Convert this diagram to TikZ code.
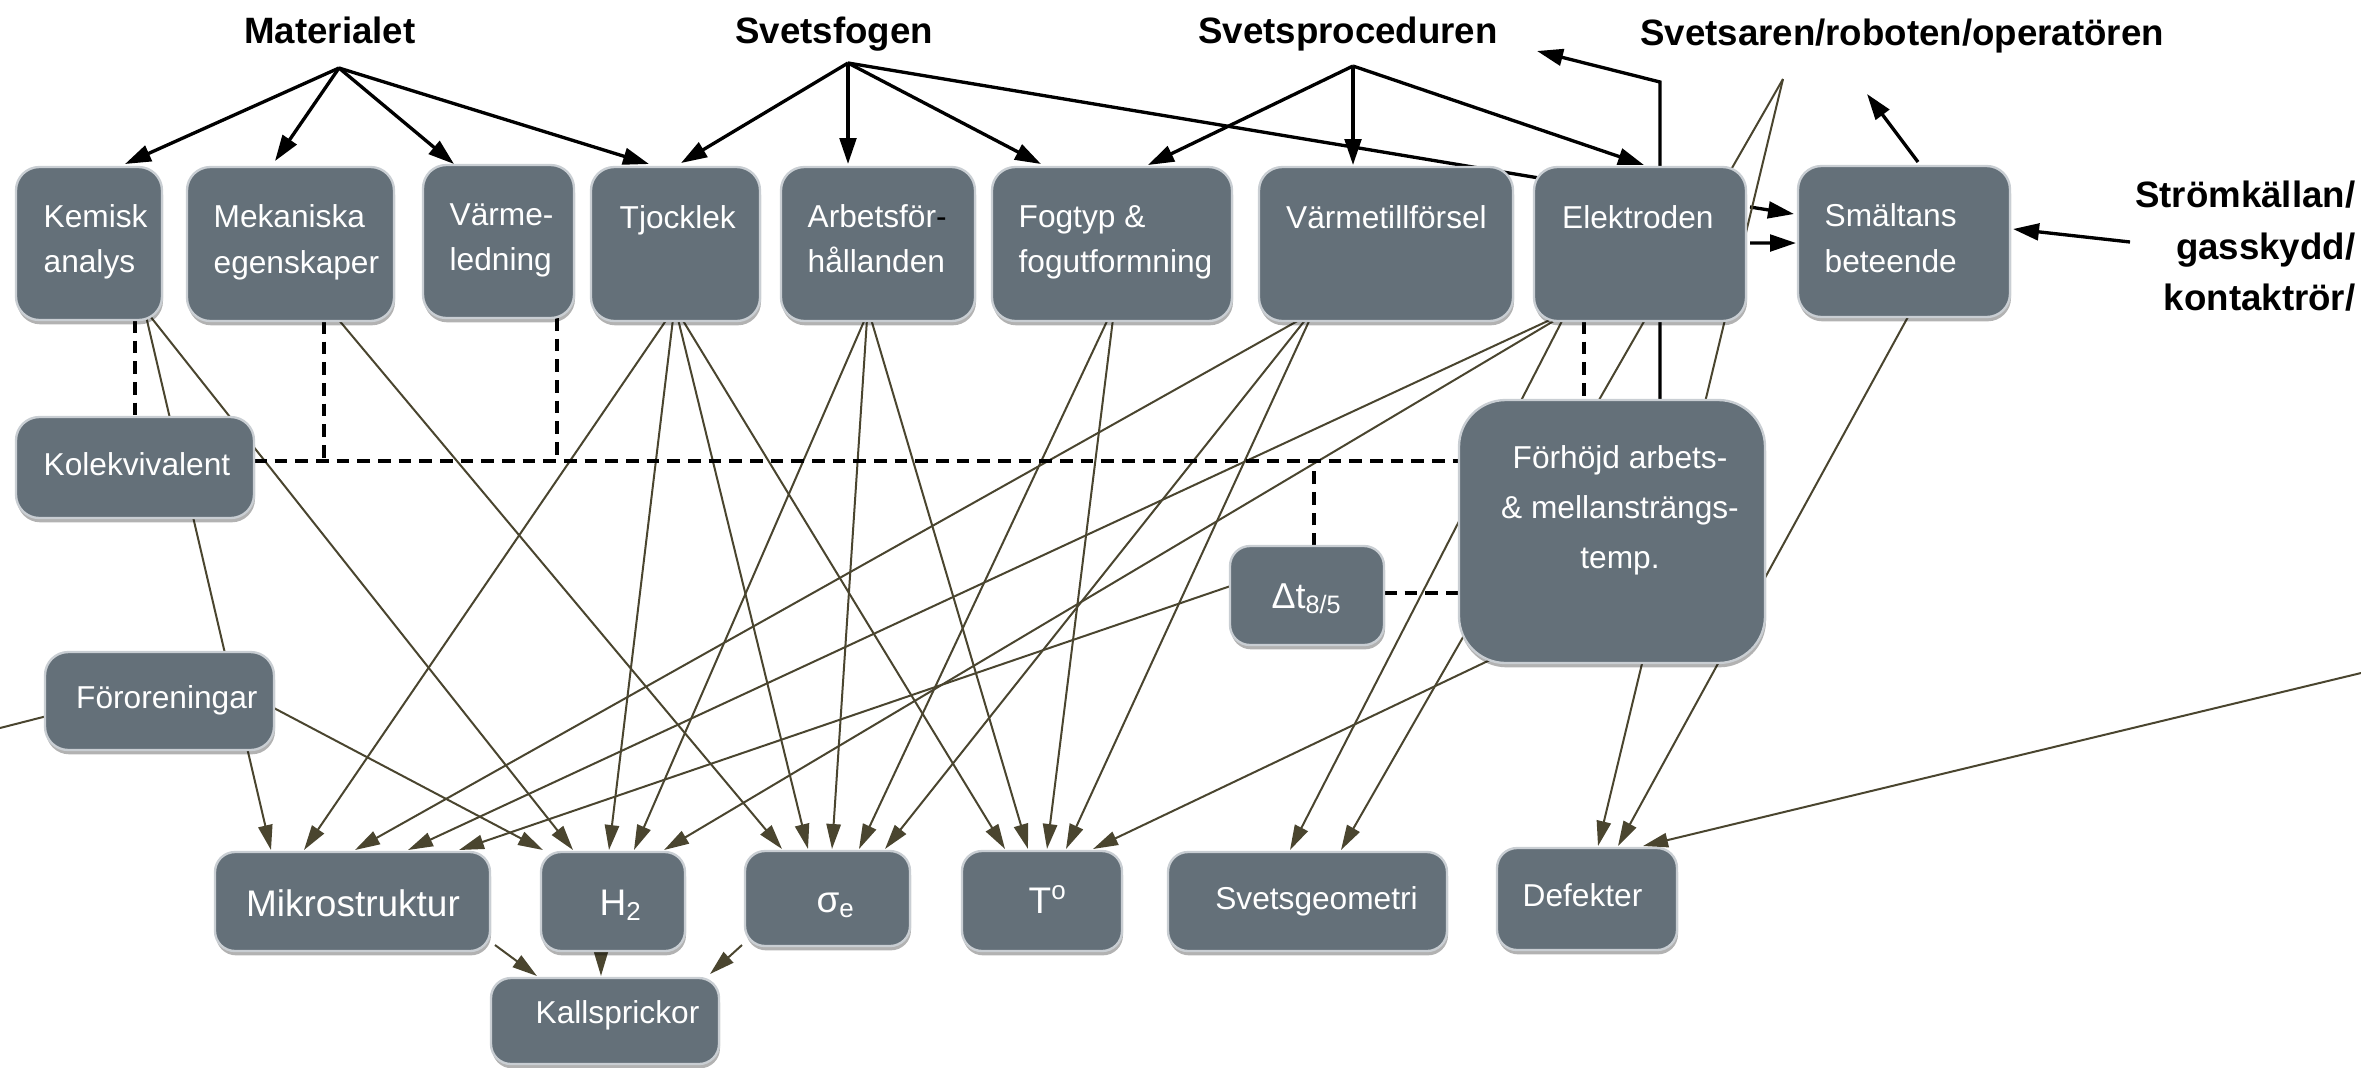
\documentclass[tikz,border=0pt]{standalone}
\usepackage{fontspec}
\setmainfont{Liberation Sans}
\usetikzlibrary{arrows.meta,calc,shadows,backgrounds}
\definecolor{boxfill}{HTML}{647079}
\definecolor{boxline}{HTML}{C9CED3}
\definecolor{olivec}{HTML}{4A452F}
\newcommand\wbfont{\fontsize{9.5}{13.65}\selectfont}
\newcommand\wbbig{\fontsize{11.1}{13.3}\selectfont}
\newcommand\wbttl{\fontsize{11}{15}\selectfont\bfseries}
\begin{document}
\begin{tikzpicture}[x=0.3pt,y=-0.3pt,
  bx/.style 2 args={draw=boxline, line width=0.7pt, fill=boxfill, rounded corners=7pt,
    minimum width=#1*0.3pt, minimum height=#2*0.3pt, inner sep=0pt, outer sep=0pt,
    drop shadow={shadow xshift=0.3pt, shadow yshift=-1.3pt, opacity=0.3, fill=black}},
  tl/.style={font=\wbfont, text=white, align=left, inner sep=0pt, anchor=west},
  tb/.style={font=\wbbig, text=white, inner sep=0pt, anchor=base},
  tm/.style={font=\wbfont, text=white, inner sep=0pt, anchor=base},
  ttl/.style={font=\wbttl, text=black, inner sep=0pt, anchor=base},
  blk/.style={draw=black, line width=1pt, -{Triangle[length=7.8pt, width=5pt]}},
  blkl/.style={draw=black, line width=1pt},
  olv/.style={draw=olivec, line width=0.6pt, -{Triangle[length=7.5pt, width=4.3pt]}},
  olvl/.style={draw=olivec, line width=0.6pt},
  dsh/.style={draw=black, line width=1pt, dash pattern=on 3.8pt off 2.4pt}
]
\useasboundingbox (0,0) rectangle (2361,1067);

% titles
\node[ttl] (mat) at (330,43) {Materialet};
\node[ttl] (sfo) at (834,43) {Svetsfogen};
\node[ttl] (spr) at (1348,43) {Svetsproceduren};
\node[ttl] (sva) at (1902,45) {Svetsaren/roboten/operatören};
\node[ttl, anchor=base east] (str1) at (2356,207) {Strömkällan/};
\node[ttl, anchor=base east] (str2) at (2356,259) {gasskydd/};
\node[ttl, anchor=base east] (str3) at (2356,310) {kontaktrör/};

% boxes
\node[bx={146}{153}] (kem) at (89,243.5) {};
\node[bx={207}{154}] (mek) at (290.5,244) {};
\node[bx={151}{153}] (var) at (498.5,241.5) {};
\node[bx={169}{154}] (tjo) at (675.5,244) {};
\node[bx={194}{154}] (arb) at (878,244) {};
\node[bx={240}{154}] (fog) at (1112,244) {};
\node[bx={254}{154}] (vtf) at (1386,244) {};
\node[bx={212}{154}] (ele) at (1640,244) {};
\node[bx={212}{151}] (sma) at (1904,241.5) {};
\node[bx={238}{101}] (kol) at (135,467.5) {};
\node[bx={229}{98}] (foro) at (159.5,701) {};
\node[bx={154}{99}, rounded corners=6pt] (dt) at (1307,595.5) {};
\node[bx={306}{263}, rounded corners=14pt] (forh) at (1612,531.5) {};
\node[bx={275}{99}, rounded corners=6pt] (mik) at (352.5,901.5) {};
\node[bx={144}{99}, rounded corners=6pt] (h2) at (613,901.5) {};
\node[bx={165}{95}, rounded corners=6pt] (sig) at (827.5,898.5) {};
\node[bx={160}{100}, rounded corners=6pt] (tgr) at (1042,901) {};
\node[bx={279}{99}, rounded corners=6pt] (svg) at (1307.5,901.5) {};
\node[bx={180}{102}, rounded corners=6pt] (def) at (1587,899) {};
\node[bx={228}{86}, rounded corners=6pt] (kal) at (605,1021) {};

% box texts
\node[tl] (kemT) at (43,240.9) {\strut Kemisk\\\strut analys};
\node[tl] (mekT) at (213,241.4) {\strut Mekaniska\\\strut egenskaper};
\node[tl] (varT) at (449,238.9) {\strut Värme-\\\strut ledning};
\node[tl] (tjoT) at (619,218.9) {\strut Tjocklek};
\node[tl] (arbT) at (807,241) {\strut Arbetsför\textcolor{black}{-}\\\strut hållanden};
\node[tl] (fogT) at (1018,241) {\strut Fogtyp \&\\\strut fogutformning};
\node[tl] (vtfT) at (1285.5,218.9) {\strut Värmetillförsel};
\node[tl] (eleT) at (1561.5,218.9) {\strut Elektroden};
\node[tl] (smaT) at (1824,240.4) {\strut Smältans\\\strut beteende};
\node[tl] (kolT) at (43,465.9) {\strut Kolekvivalent};
\node[tl] (foroT) at (75.5,698.9) {\strut Föroreningar};
\node[font=\fontsize{9.5}{15}\selectfont, text=white, align=center, inner sep=0pt] (forhT) at (1620,508)
  {\strut Förhöjd arbets-\\\strut \& mellansträngs-\\\strut temp.};
\node[tm, font=\fontsize{10.8}{12}\selectfont] (dtT) at (1307,608) {Δt\textsubscript{8/5}};
\node[tb] (mikT) at (353,916) {Mikrostruktur};
\node[tb] (h2T) at (621,915) {H\textsubscript{2}};
\node[tb] (sigT) at (836,912) {σ\textsubscript{e}};
\node[tb] (tgrT) at (1048,913) {T\textsuperscript{o}};
\node[tm] (svgT) at (1316.5,909) {Svetsgeometri};
\node[tm] (defT) at (1582.5,906) {Defekter};
\node[tm] (kalT) at (617.5,1023) {Kallsprickor};

% free ends
\coordinate (mathub) at (339,68);
\coordinate (sfohub) at (848,63);
\coordinate (sprhub) at (1353,66);
\coordinate (svahub) at (1783,79);
\coordinate (svbend) at (1660,82);
\coordinate (svtip) at (1537,51);
\coordinate (smatip) at (1867,94);
\coordinate (strsrc) at (2130,242);
\coordinate (extR) at (2361,673);
\coordinate (extL) at (0,728);
\coordinate (dl) at ($(kol.east)+(0,-6.5)$);
\coordinate (mekd) at ($(mek.south)+(33.5,0)$);
\coordinate (vard) at ($(var.south)+(58.5,0)$);
\coordinate (dtn) at ($(dt.north)+(7,0)$);
\coordinate (dte) at ($(dt.east)+(0,-2.5)$);
\coordinate (eled) at ($(ele.south)+(-56,0)$);

\begin{pgfonlayer}{background}
% black arrows
\draw[blk] (mathub) -- ($(kem.north)+(36,-3)$);
\draw[blk] (mathub) -- ($(mek.north)+(-15.5,-6)$);
\draw[blk] (mathub) -- ($(var.north)+(-44.5,-1)$);
\draw[blk] (mathub) -- ($(tjo.north)+(-26.5,-3)$);
\draw[blk] (sfohub) -- ($(tjo.north)+(5.5,-4)$);
\draw[blk] (sfohub) -- ($(arb.north)+(-30,-3)$);
\draw[blk] (sfohub) -- ($(fog.north)+(-71,-3)$);
\draw[blkl] (sfohub) -- ($(ele.north)+(-95,12)$);
\draw[blk] (sprhub) -- ($(fog.north)+(36,-2)$);
\draw[blk] (sprhub) -- ($(vtf.north)+(-33,-2)$);
\draw[blk] (sprhub) -- ($(ele.north)+(4,-2)$);
\draw[blk] ($(forh.north)+(48,2)$) -- (svbend) -- (svtip);
\draw[blk] ($(ele.east)+(4,-37)$) -- ($(sma.west)+(-4,-27.5)$);
\draw[blk] ($(ele.east)+(4,-1)$) -- ($(sma.west)+(-2,1.5)$);
\draw[blk] ($(sma.north)+(14,-4)$) -- (smatip);
\draw[blk] (strsrc) -- ($(sma.east)+(3,-12.5)$);

% olive arrows
\draw[olv] ($(kem.south)+(57,-4)$) -- ($(mik.north)+(-81.5,-2)$);
\draw[olv] ($(kem.south)+(61,-4)$) -- ($(h2.north)+(-40,-2)$);
\draw[olv] ($(mek.south)+(47.5,-2)$) -- ($(sig.north)+(-45.5,-2)$);
\draw[olv] ($(tjo.south)+(-8.5,-2)$) -- ($(mik.north)+(-48.5,-2)$);
\draw[olv] ($(tjo.south)+(-2.5,-2)$) -- ($(h2.north)+(-4,-2)$);
\draw[olv] ($(tjo.south)+(2.5,-2)$) -- ($(sig.north)+(-19.5,-2)$);
\draw[olv] ($(tjo.south)+(6.5,-2)$) -- ($(tgr.north)+(-37,-2)$);
\draw[olv] ($(arb.south)+(-13,-2)$) -- ($(h2.north)+(21,-2)$);
\draw[olv] ($(arb.south)+(-11,-2)$) -- ($(sig.north)+(4.5,-2)$);
\draw[olv] ($(arb.south)+(-7,-2)$) -- ($(tgr.north)+(-14,-2)$);
\draw[olv] ($(fog.south)+(-4,-2)$) -- ($(sig.north)+(31.5,-2)$);
\draw[olv] ($(fog.south)+(1,-2)$) -- ($(tgr.north)+(5,-2)$);
\draw[olv] ($(vtf.south)+(-85,-2)$) -- ($(mik.north)+(2.5,-2)$);
\draw[olv] ($(vtf.south)+(-80,-2)$) -- ($(sig.north)+(57.5,-2)$);
\draw[olv] ($(vtf.south)+(-76,-2)$) -- ($(tgr.north)+(24,-2)$);
\draw[olv] ($(ele.south)+(-88,-2)$) -- ($(mik.north)+(55.5,-2)$);
\draw[olv] ($(ele.south)+(-83,-2)$) -- ($(h2.north)+(51,-2)$);
\draw[olv] ($(ele.south)+(-77,-2)$) -- ($(svg.north)+(-17.5,-2)$);
\draw[olv] ($(sma.south)+(5,-2)$) -- ($(def.north)+(31,-2)$);
\draw[olv] (svahub) -- ($(def.north)+(11,-2)$);
\draw[olv] (svahub) -- ($(svg.north)+(33.5,-2)$);
\draw[olv] ($(dt.west)+(2,-10)$) -- ($(mik.north)+(106.5,-2)$);
\draw[olv] ($(forh.south)+(-120,-4)$) -- ($(tgr.north)+(51,-2)$);
\draw[olv] ($(foro.east)+(-2,6)$) -- ($(h2.north)+(-70,-2)$);
\draw[olv] (extR) -- ($(def.north)+(56,-2)$);
\draw[olvl] (extL) -- ($(foro.west)+(2,15)$);
\draw[olv] ($(mik.south)+(142.5,-6)$) -- ($(kal.north)+(-68,-2)$);
\draw[olv] ($(h2.south)+(-12,-4)$) -- ($(kal.north)+(-4,-2)$);
\draw[olv] ($(sig.south)+(-85.5,-1)$) -- ($(kal.north)+(105,-4)$);

% dashed
\draw[dsh] ($(kem.south)+(46,0)$) -- (kol.north);
\draw[dsh] (dl) -- (dl -| forh.west);
\draw[dsh] (mekd) -- (mekd |- dl);
\draw[dsh] (vard) -- (vard |- dl);
\draw[dsh] (dtn) -- (dtn |- dl);
\draw[dsh] (dte) -- (dte -| forh.west);
\draw[dsh] (eled) -- (eled |- forh.north);
\end{pgfonlayer}
\end{tikzpicture}
\end{document}
